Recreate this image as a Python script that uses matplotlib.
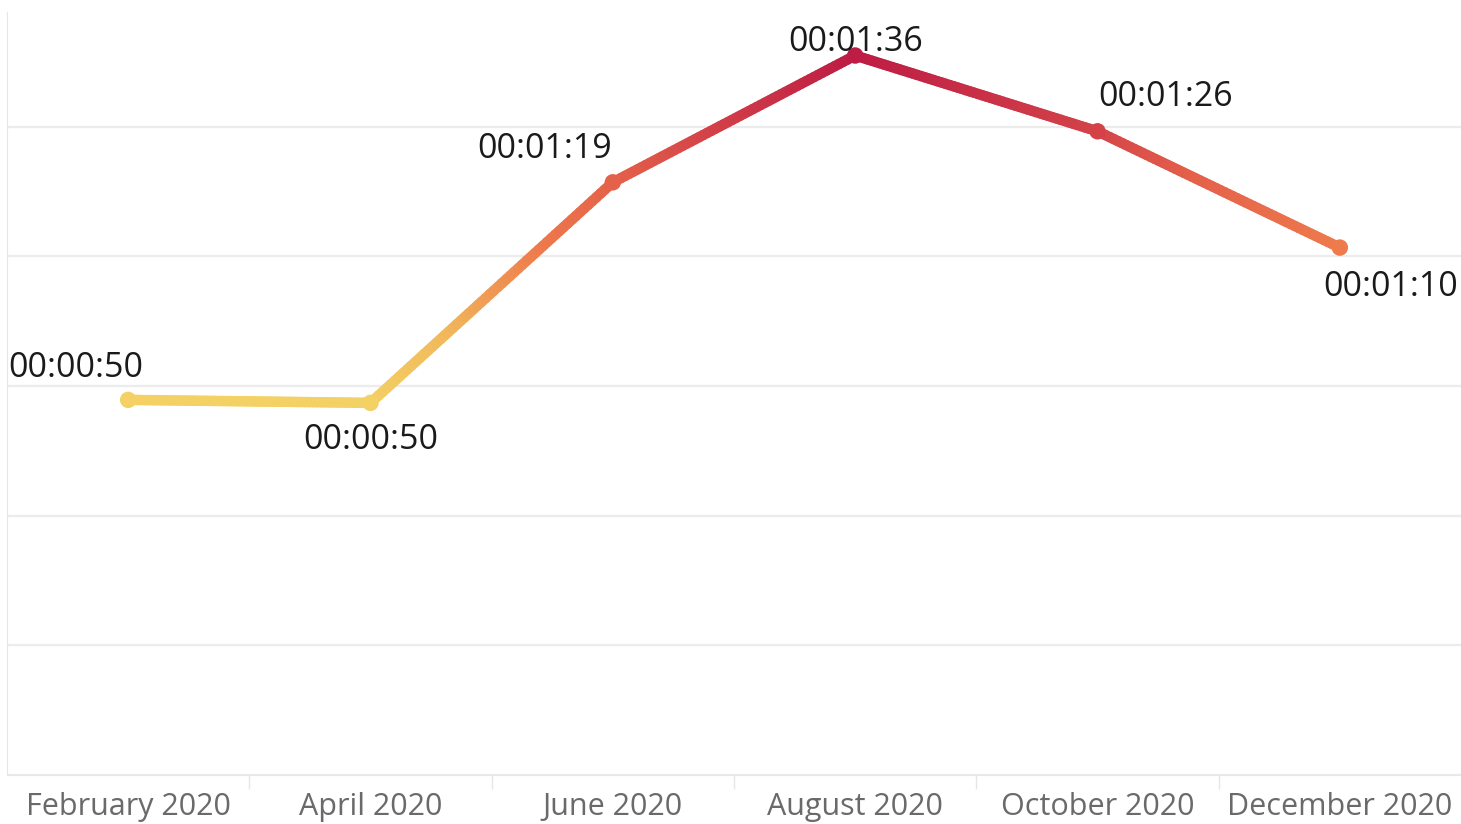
import numpy as np
import matplotlib.pyplot as plt
from matplotlib.collections import LineCollection
from matplotlib.colors import LinearSegmentedColormap, Normalize

plt.rcParams['font.family'] = ['Open Sans', 'DejaVu Sans']

months = ['February 2020', 'April 2020', 'June 2020', 'August 2020', 'October 2020', 'December 2020']
avg_seconds = [50.0, 49.6, 79.0, 95.9, 85.8, 70.3]

# label placement (offset in px from the point, horizontal alignment)
label_pos = [(-120, 32, 'left'), (0, -37, 'center'), (-1, 33, 'right'),
             (0, 14, 'center'), (1, 34, 'left'), (118, -39, 'right')]


def fmt_time(s):
    s = int(round(s))
    return f'{s // 3600:02d}:{(s % 3600) // 60:02d}:{s % 60:02d}'


cmap = LinearSegmentedColormap.from_list('tab_or', [
    (0.0, '#f4d165'), (0.2, '#f1b95c'), (0.45, '#ee7a4c'),
    (0.65, '#e4604a'), (0.8, '#d23f48'), (1.0, '#bd1c44')])
norm = Normalize(vmin=min(avg_seconds), vmax=max(avg_seconds))

fig = plt.figure(figsize=(14.61, 8.24), dpi=100)
ax = fig.add_axes([7 / 1461, 1 - 775 / 824, 1 - 7 / 1461, (775 - 12) / 824])

x = np.arange(len(months))
y = np.array(avg_seconds)

# gradient line: split each segment into small pieces, colour by value
xs, ys = [], []
for i in range(len(x) - 1):
    t = np.linspace(0, 1, 60)
    xs.append(x[i] + (x[i + 1] - x[i]) * t)
    ys.append(y[i] + (y[i + 1] - y[i]) * t)
xs = np.concatenate(xs)
ys = np.concatenate(ys)
pts = np.array([xs, ys]).T.reshape(-1, 1, 2)
segs = np.concatenate([pts[:-1], pts[1:]], axis=1)
lc = LineCollection(segs, cmap=cmap, norm=norm, linewidths=7.5, capstyle='round', zorder=3)
lc.set_array((ys[:-1] + ys[1:]) / 2)
ax.add_collection(lc)
ax.scatter(x, y, c=y, cmap=cmap, norm=norm, s=140, zorder=4, linewidths=0)

for xi, yi, (dx, dy, ha) in zip(x, y, label_pos):
    ax.annotate(fmt_time(yi), (xi, yi), xytext=(dx * 0.72, dy * 0.72),
                textcoords='offset points', ha=ha, va='center',
                fontsize=24.5, color='#1a1a1a', zorder=5)

# grid every 0.0002 days (17.28 s)
step = 0.0002 * 86400
ax.set_yticks(np.arange(0, 110, step))
ax.set_ylim(0, 101.7)
ax.set_xlim(-0.5, len(months) - 0.5)
ax.yaxis.grid(True, color='#ececec', linewidth=1.6)
ax.tick_params(axis='y', left=False, labelleft=False)
ax.set_xticks(x)
ax.set_xticklabels(months, fontsize=22, color='#6a6a6a')
ax.tick_params(axis='x', length=0, pad=12)
ax.set_xticks(np.arange(0.5, len(months) - 0.5), minor=True)
ax.tick_params(axis='x', which='minor', length=10, color='#e6e6e6', width=1)

for side in ['top', 'right']:
    ax.spines[side].set_visible(False)
ax.spines['left'].set_color('#e6e6e6')
ax.spines['bottom'].set_color('#e6e6e6')
ax.set_axisbelow(True)

fig.savefig('out.png', dpi=100)
